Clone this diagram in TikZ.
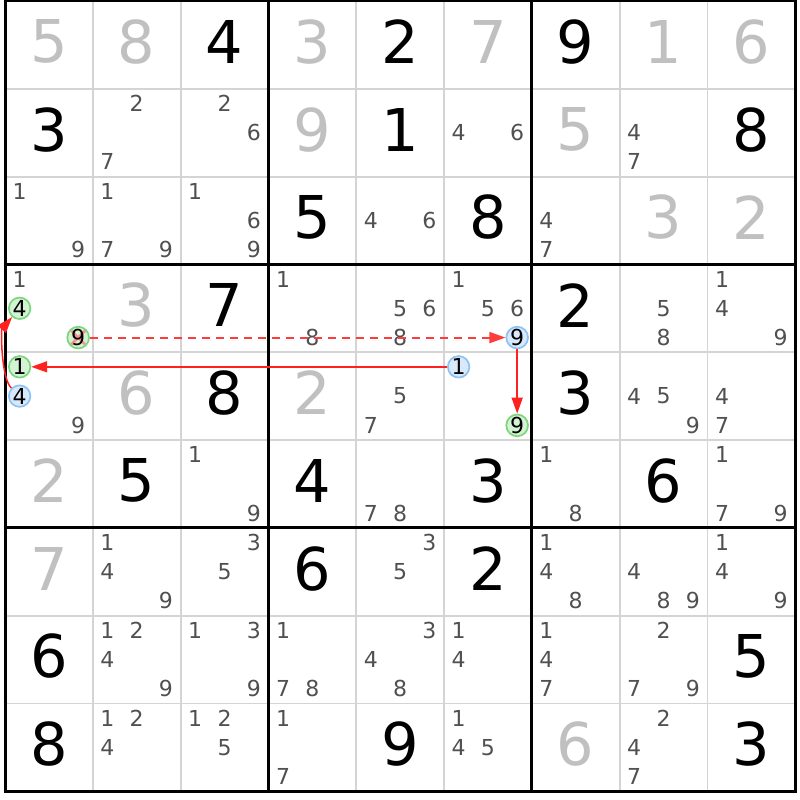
\documentclass[tikz,border=0pt]{standalone}
\usepackage{fontspec}
\setmainfont{DejaVu Sans}
\usetikzlibrary{arrows.meta}
\definecolor{gridgray}{HTML}{D4D4D4}
\definecolor{solved}{HTML}{C0C0C0}
\definecolor{candc}{HTML}{505050}
\definecolor{gfill}{HTML}{D4F2D4}
\definecolor{gline}{HTML}{7CD67C}
\definecolor{bfill}{HTML}{D8E9FC}
\definecolor{bline}{HTML}{8CC2F4}
\definecolor{linkred}{HTML}{FF2020}
\definecolor{dashred}{HTML}{FF3C3C}
\newcommand\SZ{87.8}
\tikzset{
  bigdigit/.style={inner sep=0pt,font=\fontsize{59}{59}\selectfont},
  cand/.style={inner sep=0pt,text=candc,font=\fontsize{22}{22}\selectfont},
  hl/.style={circle,inner sep=0pt,minimum size=21.5pt,line width=1.7pt,text=black,font=\fontsize{22}{22}\selectfont},
  hlgreen/.style={hl,fill=gfill,draw=gline},
  hlblue/.style={hl,fill=bfill,draw=bline},
  link/.style={draw=linkred,line width=1.5pt,-{Triangle[length=16pt,width=11pt]}},
  weaklink/.style={draw=dashred,line width=2pt,dash pattern=on 8pt off 6pt,-{Triangle[length=16pt,width=11pt]}},
  xcross/.style={draw=red!45,line width=2.6pt},
  gridline/.style={draw=gridgray,line width=1.8pt},
  boxline/.style={draw=black,line width=3pt}
}
\newcommand\givenv[3]{\node[bigdigit,text=black] (v#1#2) at ({5+(#2+0.5)*\SZ},{1+(#1+0.5)*\SZ-3}) {#3};}
\newcommand\solvedv[3]{\node[bigdigit,text=solved] (v#1#2) at ({5+(#2+0.5)*\SZ},{1+(#1+0.5)*\SZ-3}) {#3};}
\newcommand\candpos[3]{{5+#2*\SZ+(mod(#3-1,3)+0.5)*\SZ/3},{1+#1*\SZ+(div(#3-1,3)+0.5)*\SZ/3}}
\newcommand\cands[3]{\foreach \dd in {#3} {\node[cand] (c#1#2\dd) at (\candpos{#1}{#2}{\dd}) {\dd};}}
\begin{document}
\begin{tikzpicture}[x=1pt,y=-1pt]
\useasboundingbox (0,0) rectangle (800,800);
\fill[white] (0,0) rectangle (800,800);
% thin grid
\foreach \i in {1,2,4,5,7,8} {
  \draw[gridline] ({5+\i*\SZ},1) -- ({5+\i*\SZ},{1+9*\SZ});
  \draw[gridline] (5,{1+\i*\SZ}) -- ({5+9*\SZ},{1+\i*\SZ});
}
\foreach \i in {0,3,6,9} {
  \draw[boxline] ({5+\i*\SZ},-0.5) -- ({5+\i*\SZ},{2.5+9*\SZ});
  \draw[boxline] (3.5,{1+\i*\SZ}) -- ({6.5+9*\SZ},{1+\i*\SZ});
}
% row 0
\solvedv{0}{0}{5}\solvedv{0}{1}{8}\givenv{0}{2}{4}\solvedv{0}{3}{3}\givenv{0}{4}{2}\solvedv{0}{5}{7}\givenv{0}{6}{9}\solvedv{0}{7}{1}\solvedv{0}{8}{6}
% row 1
\givenv{1}{0}{3}\cands{1}{1}{2,7}\cands{1}{2}{2,6}\solvedv{1}{3}{9}\givenv{1}{4}{1}\cands{1}{5}{4,6}\solvedv{1}{6}{5}\cands{1}{7}{4,7}\givenv{1}{8}{8}
% row 2
\cands{2}{0}{1,9}\cands{2}{1}{1,7,9}\cands{2}{2}{1,6,9}\givenv{2}{3}{5}\cands{2}{4}{4,6}\givenv{2}{5}{8}\cands{2}{6}{4,7}\solvedv{2}{7}{3}\solvedv{2}{8}{2}
% row 3
\cands{3}{0}{1}\solvedv{3}{1}{3}\givenv{3}{2}{7}\cands{3}{3}{1,8}\cands{3}{4}{5,6,8}\cands{3}{5}{1,5,6}\givenv{3}{6}{2}\cands{3}{7}{5,8}\cands{3}{8}{1,4,9}
% row 4
\cands{4}{0}{9}\solvedv{4}{1}{6}\givenv{4}{2}{8}\solvedv{4}{3}{2}\cands{4}{4}{5,7}\givenv{4}{6}{3}\cands{4}{7}{4,5,9}\cands{4}{8}{4,7}
% row 5
\solvedv{5}{0}{2}\givenv{5}{1}{5}\cands{5}{2}{1,9}\givenv{5}{3}{4}\cands{5}{4}{7,8}\givenv{5}{5}{3}\cands{5}{6}{1,8}\givenv{5}{7}{6}\cands{5}{8}{1,7,9}
% row 6
\solvedv{6}{0}{7}\cands{6}{1}{1,4,9}\cands{6}{2}{3,5}\givenv{6}{3}{6}\cands{6}{4}{3,5}\givenv{6}{5}{2}\cands{6}{6}{1,4,8}\cands{6}{7}{4,8,9}\cands{6}{8}{1,4,9}
% row 7
\givenv{7}{0}{6}\cands{7}{1}{1,2,4,9}\cands{7}{2}{1,3,9}\cands{7}{3}{1,7,8}\cands{7}{4}{3,4,8}\cands{7}{5}{1,4}\cands{7}{6}{1,4,7}\cands{7}{7}{2,7,9}\givenv{7}{8}{5}
% row 8
\givenv{8}{0}{8}\cands{8}{1}{1,2,4}\cands{8}{2}{1,2,5}\cands{8}{3}{1,7}\givenv{8}{4}{9}\cands{8}{5}{1,4,5}\solvedv{8}{6}{6}\cands{8}{7}{2,4,7}\givenv{8}{8}{3}
% highlighted candidates
\node[hlgreen] (c304) at (\candpos{3}{0}{4}) {4};
\node[hlgreen,path picture={
  \draw[xcross] ([shift={(4,4)}]path picture bounding box.north west) -- ([shift={(-4,-4)}]path picture bounding box.south east);
  \draw[xcross] ([shift={(-4,4)}]path picture bounding box.north east) -- ([shift={(4,-4)}]path picture bounding box.south west);
}] (c309) at (\candpos{3}{0}{9}) {9};
\node[hlblue] (c359) at (\candpos{3}{5}{9}) {9};
\node[hlgreen] (c401) at (\candpos{4}{0}{1}) {1};
\node[hlblue] (c404) at (\candpos{4}{0}{4}) {4};
\node[hlblue] (c451) at (\candpos{4}{5}{1}) {1};
\node[hlgreen] (c459) at (\candpos{4}{5}{9}) {9};
% links
\draw[weaklink] (c309) -- (c359);
\draw[link] (c451) -- (c401);
\draw[link] (c359) -- (c459);
\draw[link] (c404) .. controls (1,378) and (1,330) .. (c304);
\end{tikzpicture}
\end{document}
